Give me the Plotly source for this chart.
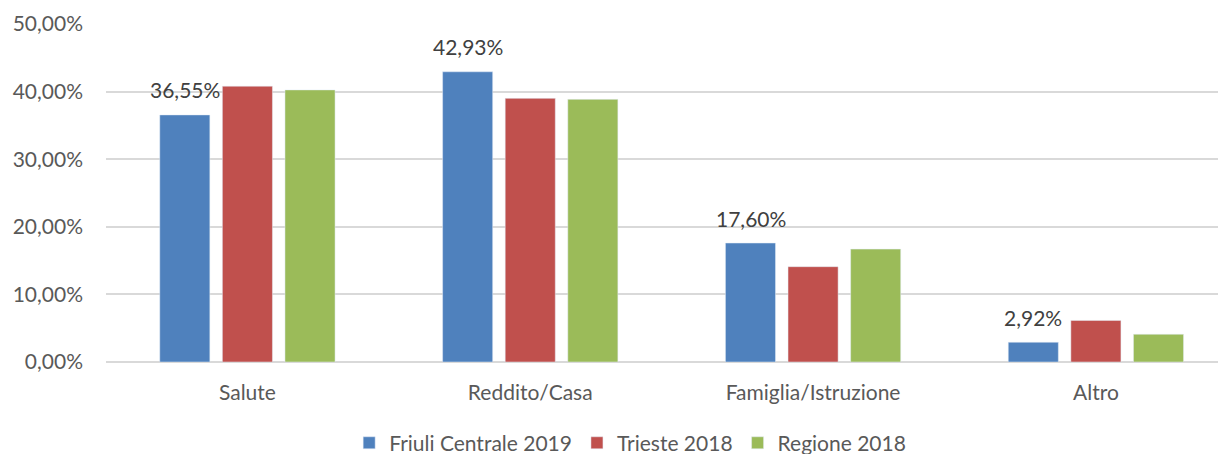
import plotly.graph_objects as go

categories = ["Salute", "Reddito/Casa", "Famiglia/Istruzione", "Altro"]
friuli_2019 = [36.55, 42.93, 17.60, 2.92]
trieste_2018 = [40.8, 39.0, 14.1, 6.15]
regione_2018 = [40.25, 38.85, 16.7, 4.1]
y_ticks = [0, 10, 20, 30, 40, 50]
y_tick_labels = ["0,00%", "10,00%", "20,00%", "30,00%", "40,00%", "50,00%"]

FONT = "Lato"
FS = 21
fig = go.Figure()
fig.add_trace(go.Bar(name="Friuli Centrale 2019", x=categories, y=friuli_2019,
                     marker_color="#4F81BD"))
fig.add_trace(go.Bar(name="Trieste 2018", x=categories, y=trieste_2018,
                     marker_color="#C0504D"))
fig.add_trace(go.Bar(name="Regione 2018", x=categories, y=regione_2018,
                     marker_color="#9BBB59"))

for cat, val in zip(categories, friuli_2019):
    fig.add_annotation(
        x=cat, y=val, xref="x", yref="y",
        text=f"{val:.2f}%".replace(".", ","), showarrow=False,
        xshift=-62.5, yshift=25, yanchor="middle",
        font=dict(size=FS, color="#404040", family=FONT),
    )

# page body has an 8px margin: size the figure to fill the rest of the window
fig.update_layout(
    width=1218, height=446,
    margin=dict(l=98, r=0, t=16, b=92, autoexpand=False),
    paper_bgcolor="white", plot_bgcolor="white",
    barmode="group", bargap=0.336, bargroupgap=0.2,
    separators=",.",
    font=dict(family=FONT, size=FS, color="#595959"),
    showlegend=True,
    legend=dict(orientation="h", x=0.468, xanchor="center",
                y=-0.24, yanchor="middle",
                font=dict(size=FS, color="#595959"),
                traceorder="normal", tracegroupgap=0),
    xaxis=dict(range=[-0.5, 3.46], showline=False, ticks="", showgrid=False,
               ticklabelstandoff=16, automargin=False,
               tickfont=dict(size=FS, color="#595959")),
    yaxis=dict(range=[0, 50], tickvals=y_ticks, ticktext=y_tick_labels,
               showgrid=True, gridcolor="#D9D9D9", gridwidth=1.5,
               zeroline=True, zerolinecolor="#D9D9D9", zerolinewidth=1.5,
               showline=False, ticks="", ticklabelstandoff=22, automargin=False,
               tickfont=dict(size=FS, color="#595959")),
)

fig.write_html("out.html")
